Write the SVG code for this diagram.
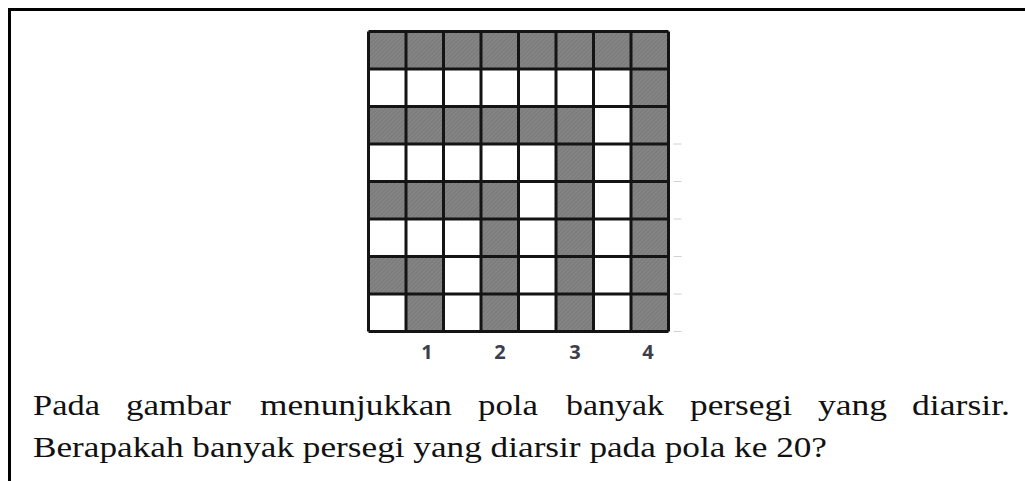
<svg xmlns="http://www.w3.org/2000/svg" width="1025" height="481" viewBox="0 0 1025 481">
<defs>
<pattern id="hatch" width="3" height="3" patternUnits="userSpaceOnUse" patternTransform="rotate(45)">
<rect width="3" height="3" fill="#848484"/>
<line x1="0" y1="0" x2="0" y2="3" stroke="#6e6e6e" stroke-width="1"/>
</pattern>
<style>
.sh{fill:url(#hatch)}
.grid{fill:none;stroke:#141414;stroke-width:3}
.tick{stroke:#d0d0d0;stroke-width:1}
.num{font-family:"Open Sans","Liberation Sans",sans-serif;font-weight:bold;font-size:20px;fill:#3e3e4a;text-anchor:middle}
.body{font-family:"Liberation Serif","DejaVu Serif",serif;font-size:30px;fill:#111}
</style>
</defs>
<rect width="1025" height="481" fill="#fff"/>
<g id="frame">
<path d="M9.5 481V9.5H1025" fill="none" stroke="#000" stroke-width="3"/>
</g>
<g id="grid-figure" transform="translate(368.5 31.5)">
<g id="shaded">
<rect class="sh" x="0" y="0" width="300" height="37.5"/>
<rect class="sh" x="262.5" y="37.5" width="37.5" height="262.5"/>
<rect class="sh" x="0" y="75" width="225" height="37.5"/>
<rect class="sh" x="187.5" y="112.5" width="37.5" height="187.5"/>
<rect class="sh" x="0" y="150" width="150" height="37.5"/>
<rect class="sh" x="112.5" y="187.5" width="37.5" height="112.5"/>
<rect class="sh" x="0" y="225" width="75" height="37.5"/>
<rect class="sh" x="37.5" y="262.5" width="37.5" height="37.5"/>
</g>
<path class="grid" d="M0 0V300M37.5 0V300M75 0V300M112.5 0V300M150 0V300M187.5 0V300M225 0V300M262.5 0V300M300 0V300M0 0H300M0 37.5H300M0 75H300M0 112.5H300M0 150H300M0 187.5H300M0 225H300M0 262.5H300M0 300H300"/>
<path class="tick" d="M305 112.5h8M305 150h8M305 187.5h8M305 225h8M305 262.5h8M305 300h8"/>
</g>
<g id="labels">
<text class="num" x="427" y="359">1</text>
<text class="num" x="500" y="359">2</text>
<text class="num" x="575" y="359">3</text>
<text class="num" x="648" y="359">4</text>
</g>
<g id="question" class="body" lengthAdjust="spacingAndGlyphs">
<text x="33" y="415" textLength="67" lengthAdjust="spacingAndGlyphs">Pada</text>
<text x="126" y="415" textLength="105" lengthAdjust="spacingAndGlyphs">gambar</text>
<text x="260" y="415" textLength="192" lengthAdjust="spacingAndGlyphs">menunjukkan</text>
<text x="478" y="415" textLength="60" lengthAdjust="spacingAndGlyphs">pola</text>
<text x="566" y="415" textLength="98" lengthAdjust="spacingAndGlyphs">banyak</text>
<text x="690" y="415" textLength="102" lengthAdjust="spacingAndGlyphs">persegi</text>
<text x="818" y="415" textLength="69" lengthAdjust="spacingAndGlyphs">yang</text>
<text x="912" y="415" textLength="98" lengthAdjust="spacingAndGlyphs">diarsir.</text>
<text x="33" y="457" textLength="794" lengthAdjust="spacingAndGlyphs">Berapakah banyak persegi yang diarsir pada pola ke 20?</text>
</g>
</svg>
